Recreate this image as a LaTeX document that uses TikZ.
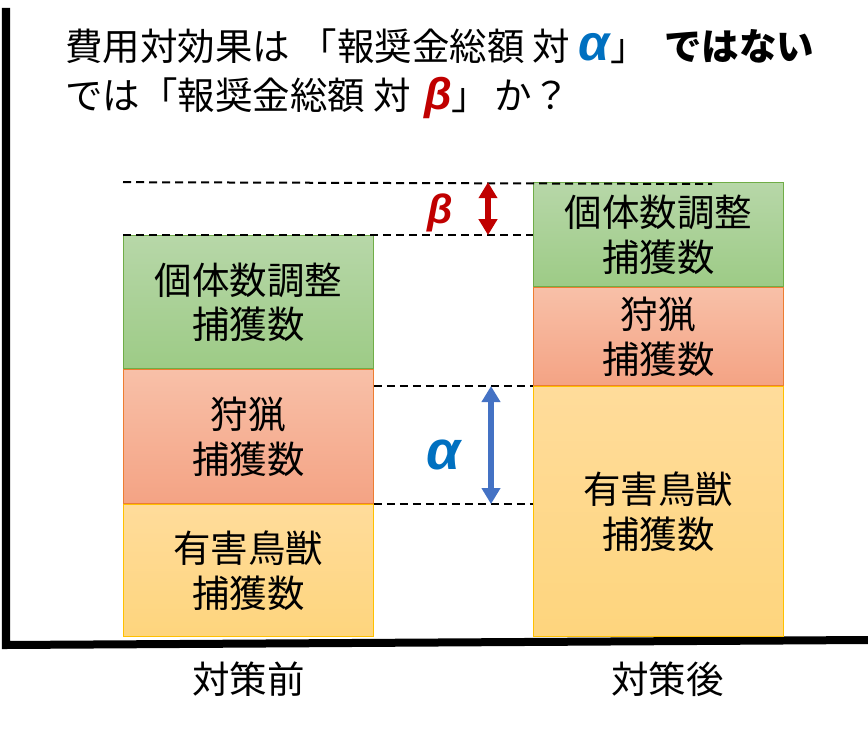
\documentclass[tikz,border=0pt]{standalone}
\usepackage{fontspec}
\setmainfont{Noto Sans CJK JP}
\newfontfamily\greekfont{Liberation Sans}
\usetikzlibrary{positioning,arrows.meta}

\definecolor{greenTop}{RGB}{183,215,168}
\definecolor{greenBot}{RGB}{157,203,134}
\definecolor{greenEdge}{RGB}{112,173,71}
\definecolor{redTop}{RGB}{248,192,168}
\definecolor{redBot}{RGB}{244,163,132}
\definecolor{redEdge}{RGB}{237,125,49}
\definecolor{yellowTop}{RGB}{255,220,155}
\definecolor{yellowBot}{RGB}{254,213,125}
\definecolor{yellowEdge}{RGB}{255,192,0}
\definecolor{alphaBlue}{RGB}{0,112,192}
\definecolor{alphaArrow}{RGB}{68,114,196}
\definecolor{betaRed}{RGB}{192,0,0}

\newcommand{\alphasym}{{\color{alphaBlue}\greekfont\bfseries\itshape α}}
\newcommand{\betasym}{{\color{betaRed}\greekfont\bfseries\itshape β}}

\tikzset{
  bar/.style={draw, line width=0.8pt, minimum width=7.5cm, inner sep=0pt,
    align=center, font=\fontsize{32}{38}\selectfont},
  greenbar/.style={bar, draw=greenEdge, top color=greenTop, bottom color=greenBot},
  redbar/.style={bar, draw=redEdge, top color=redTop, bottom color=redBot},
  yellowbar/.style={bar, draw=yellowEdge, top color=yellowTop, bottom color=yellowBot},
  guide/.style={line width=0.06cm, dash pattern=on 0.24cm off 0.15cm},
  twoway/.style={{Triangle[width=0.54cm,length=0.48cm]}-{Triangle[width=0.54cm,length=0.48cm]},
    line width=0.17cm},
  caption/.style={inner sep=0pt, font=\fontsize{32}{38}\selectfont},
  axis/.style={line width=0.24cm, line join=miter}
}

\begin{document}
\begin{tikzpicture}[x=0.03cm,y=-0.03cm]
  \useasboundingbox (0,0) rectangle (868,731);

  % Axis
  \draw[axis] (6,8) -- (6,645) -- (868,640);

  % Title
  \node[caption, anchor=base west] (line1) at (65,61)
    {費用対効果は\hspace{0.25em}「報奨金総額 対 {\fontsize{43}{43}\selectfont\alphasym}」\hspace{0.45em}\textbf{ではない}};
  \node[caption, anchor=base west] (line2) at (65,109)
    {では「報奨金総額 対\hspace{0.35em}{\fontsize{38}{38}\selectfont\betasym}」\hspace{0.15em}か？};

  % Before
  \node[yellowbar, minimum height=3.96cm, anchor=south west] (preY) at (123,637)
    {有害鳥獣\\捕獲数};
  \node[redbar, minimum height=4.02cm, above=0pt of preY] (preR) {狩猟\\捕獲数};
  \node[greenbar, minimum height=3.99cm, above=0pt of preR] (preG) {個体数調整\\捕獲数};

  % After
  \node[yellowbar, minimum height=7.5cm, anchor=south west] (postY) at (533,637)
    {有害鳥獣\\捕獲数};
  \node[redbar, minimum height=2.94cm, above=0pt of postY] (postR) {狩猟\\捕獲数};
  \node[greenbar, minimum height=3.12cm, above=0pt of postR] (postG) {個体数調整\\捕獲数};

  % Guides
  \coordinate (betaL) at (preG.north west |- postG.north);
  \coordinate (betaR) at (712,184);
  \draw[guide] (betaL) -- (betaR);
  \draw[guide] (preG.north west) -- (preG.north west -| postG.west);
  \draw[guide] (preR.east |- postY.north) -- (postY.north west);
  \draw[guide] (preY.north east) -- (preY.north east -| postY.west);

  % Differences
  \coordinate (betaX) at (488,0);
  \coordinate (alphaX) at (491,0);
  \draw[twoway, betaRed] (betaX |- betaL) -- (betaX |- preG.north);
  \draw[twoway, alphaArrow] (alphaX |- postY.north) -- (alphaX |- preY.north);
  \node[inner sep=0pt, font=\fontsize{35}{35}\selectfont] (beta) at (440,213) {\betasym};
  \node[inner sep=0pt, font=\fontsize{47}{47}\selectfont] (alpha) at (444,455) {\alphasym};

  % Labels
  \node[caption, below=0.75cm of preY] (before) {対策前};
  \node[caption, below=0.75cm of postY, xshift=0.27cm] (after) {対策後};
\end{tikzpicture}
\end{document}
